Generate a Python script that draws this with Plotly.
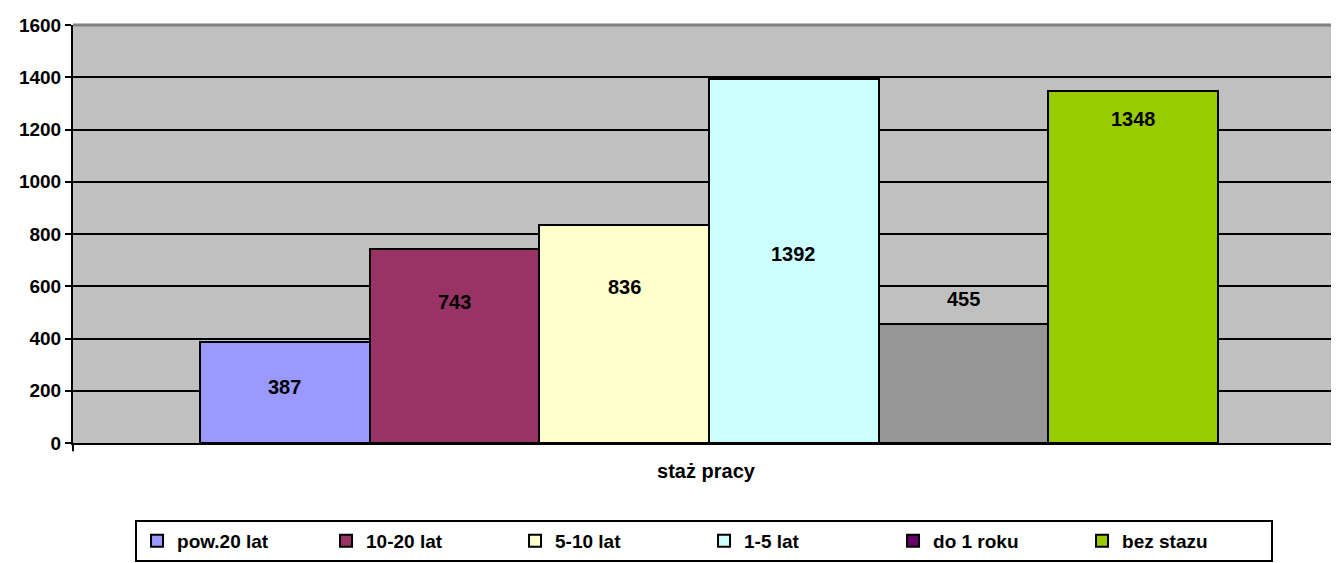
import plotly.graph_objects as go

series = ["pow.20 lat", "10-20 lat", "5-10 lat", "1-5 lat", "do 1 roku", "bez stazu"]
values = [387, 743, 836, 1392, 455, 1348]
bar_colors = ["#9999FF", "#993366", "#FFFFCC", "#CCFFFF", "#969696", "#99CC00"]
legend_colors = ["#9999FF", "#993366", "#FFFFCC", "#CCFFFF", "#660066", "#99CC00"]
# where Excel put each data label (y in data units)
label_y = [214, 540, 597, 723, 551, 1240]
y_ticks = [0, 200, 400, 600, 800, 1000, 1200, 1400, 1600]

FONT = "Liberation Sans, Arial, sans-serif"


def bold(size):
    return dict(family=FONT, size=size, color="#000000", weight="bold")


fig = go.Figure()

for name, val, col in zip(series, values, bar_colors):
    fig.add_trace(
        go.Bar(
            x=[name],
            y=[val],
            marker=dict(color=col, line=dict(color="#000000", width=2)),
            showlegend=False,
            hoverinfo="skip",
        )
    )

# legend entries (legend swatches don't all match the bar colours in the original)
for name, col in zip(series, legend_colors):
    fig.add_trace(
        go.Bar(
            x=[None],
            y=[None],
            name=name,
            marker=dict(color=col, line=dict(color="#000000", width=2)),
        )
    )

for name, val, ly in zip(series, values, label_y):
    fig.add_annotation(
        x=name,
        y=ly,
        text=str(val),
        showarrow=False,
        font=bold(20),
    )

# grey top border of the plot area
fig.add_shape(
    type="line", xref="paper", yref="paper", x0=0, x1=1, y0=1, y1=1,
    line=dict(color="#808080", width=3),
)
# little tick below the x axis at its left end
fig.add_shape(
    type="line", xref="paper", yref="paper", x0=0, x1=0, y0=0, y1=-0.02,
    line=dict(color="#000000", width=2),
)

fig.update_layout(
    width=1331,
    height=555,
    paper_bgcolor="#FFFFFF",
    plot_bgcolor="#C0C0C0",
    margin=dict(l=65, r=0, t=17, b=120),
    bargap=0,
    font=dict(family=FONT, size=19, color="#000000"),
    xaxis=dict(
        type="category",
        range=[-1.248, 6.213],
        showticklabels=False,
        showgrid=False,
        showline=True,
        linecolor="#000000",
        linewidth=2,
        ticks="",
        title=dict(text="staż pracy", font=bold(20), standoff=20),
        fixedrange=True,
    ),
    yaxis=dict(
        range=[0, 1600],
        tickvals=y_ticks,
        tickfont=bold(19),
        showgrid=True,
        gridcolor="#000000",
        gridwidth=2,
        showline=True,
        linecolor="#000000",
        linewidth=2,
        ticks="outside",
        ticklen=6,
        tickwidth=2,
        tickcolor="#000000",
        zeroline=False,
        fixedrange=True,
    ),
    legend=dict(
        orientation="h",
        x=0.049,
        xanchor="left",
        y=-0.184,
        yanchor="top",
        bgcolor="#FFFFFF",
        bordercolor="#000000",
        borderwidth=2,
        font=bold(19),
        entrywidth=144,
        entrywidthmode="pixels",
        itemsizing="constant",
    ),
)

fig.write_html("out.html")
